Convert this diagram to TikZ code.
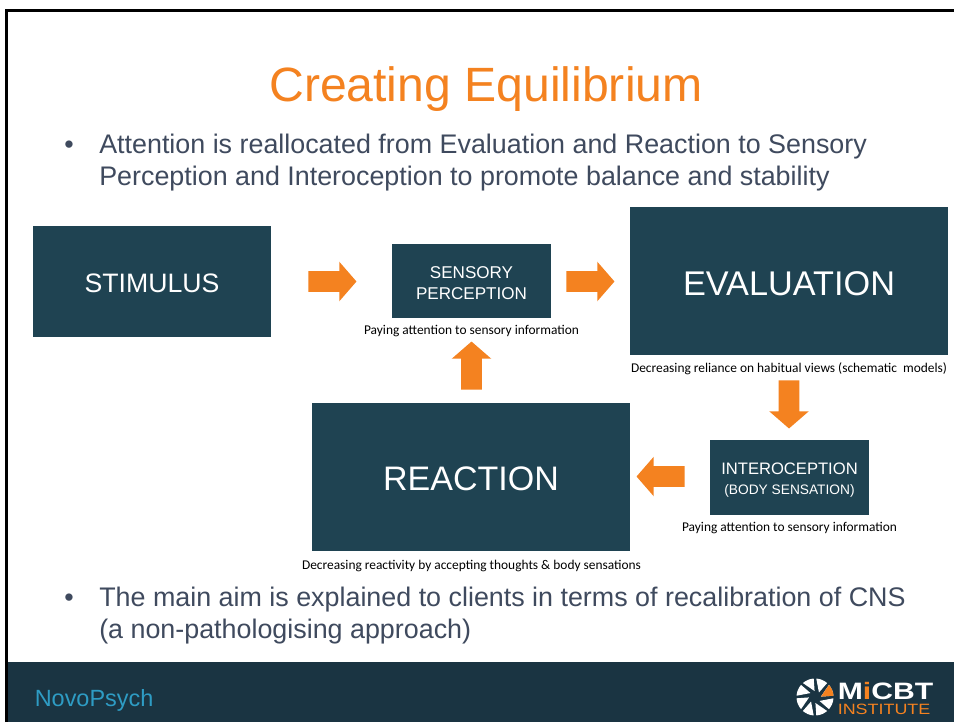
\documentclass[tikz,border=0pt]{standalone}
\usepackage{fontspec}
\setmainfont{Liberation Sans}
\newfontfamily\capfont{Carlito}
\usepackage{xcolor}
\usetikzlibrary{shapes.arrows}
\definecolor{panel}{HTML}{1F4352}
\definecolor{footer}{HTML}{1A3442}
\definecolor{accent}{HTML}{F48220}
\definecolor{slate}{HTML}{3F4A5E}
\definecolor{novo}{HTML}{2E9CC4}
\def\px{0.75pt}
\newcommand{\dropline}[1]{\rule{0pt}{\dimexpr0.72em+#1\relax}}
\tikzset{
  panelbox/.style={fill=panel, text=white, inner sep=0pt, align=center},
  lbl/.style={text=slate, font=\fontsize{20.15}{24}\selectfont, anchor=base west, inner sep=0pt},
  caption/.style={text=black, font=\capfont\fontsize{10.05}{12}\selectfont, inner sep=0pt},
  blockarrow/.style={single arrow, fill=accent, inner sep=10*\px, minimum height=48*\px,
    single arrow head extend=9.5*\px, single arrow tip angle=98}
}

\begin{document}
\begin{tikzpicture}[x=\px, y=-\px]
  \useasboundingbox (0,0) rectangle (954,722);
  \fill[white] (0,0) rectangle (954,722);
  \fill[footer] (6,662) rectangle (954,722);
  \draw[black, line width=1.9pt] (6.6,722) -- (6.6,10.3) -- (954,10.3);

  % title and bullets
  \node[text=accent, font=\fontsize{36.1}{44}\selectfont, inner sep=0pt] (title) at (486,89.5) {Creating Equilibrium};
  \node[lbl] (bulletA) at (64,153) {•};
  \node[lbl] (lineA) at (99,153) {Attention is reallocated from Evaluation and Reaction to Sensory};
  \node[lbl] (lineB) at (99,185) {Perception and Interoception to promote balance and stability};
  \node[lbl] (bulletB) at (64,606) {•};
  \node[lbl] (lineC) at (99,606) {The main aim is explained to clients in terms of recalibration of CNS};
  \node[lbl] (lineD) at (99,638) {(a non-pathologising approach)};

  % boxes
  \node[panelbox, minimum width=238*\px, minimum height=111*\px, font=\fontsize{20}{24}\selectfont] (stimulus) at (152,281.5) {\dropline{2.4pt}STIMULUS};
  \node[panelbox, minimum width=159*\px, minimum height=74*\px, font=\fontsize{12.8}{16}\selectfont] (sensory) at (471.5,281) {\dropline{3pt}SENSORY\\PERCEPTION};
  \node[panelbox, minimum width=318*\px, minimum height=148*\px, font=\fontsize{25.7}{30}\selectfont] (evaluation) at (789,281) {\dropline{3.2pt}EVALUATION};
  \node[panelbox, minimum width=318*\px, minimum height=148*\px, font=\fontsize{25.5}{30}\selectfont] (reaction) at (471,477) {\dropline{2.4pt}REACTION};
  \node[panelbox, minimum width=159*\px, minimum height=75*\px, font=\fontsize{12.45}{15.2}\selectfont] (interoception) at (789.5,477.5) {\dropline{3.6pt}INTEROCEPTION\\{\fontsize{10.3}{14}\selectfont (BODY SENSATION)}};

  % captions
  \node[caption] (capsensory) at (471.5,331) {Paying attention to sensory information};
  \node[caption] (capevaluation) at (789,369) {Decreasing reliance on habitual views (schematic\ \ models)};
  \node[caption] (capinteroception) at (789.5,528) {Paying attention to sensory information};
  \node[caption] (capreaction) at (471.5,566) {Decreasing reactivity by accepting thoughts \& body sensations};

  % arrows
  \node[blockarrow] (arrowA) at (328,281.5) {};
  \node[blockarrow] (arrowB) at (586,281.5) {};
  \node[blockarrow, shape border rotate=270] (arrowC) at (789,400) {};
  \node[blockarrow, shape border rotate=180] (arrowD) at (665,476.5) {};
  \node[blockarrow, shape border rotate=90] (arrowE) at (471.5,370) {};

  % footer
  \node[text=novo, font=\fontsize{17.6}{20}\selectfont, anchor=base west, inner sep=0pt] (novopsych) at (34.5,706) {NovoPsych};
  \begin{scope}[shift={(815,697)}, x=\px, y=\px]
    \foreach \a in {4,49,...,319} {
      \fill[white] (\a:6) -- (\a:18.5) arc[start angle=\a, end angle=\a+37, radius=18.5] -- cycle;
    }
    \fill[accent] (4:6) -- (4:18.5) arc[start angle=4, end angle=41, radius=18.5] -- cycle;
  \end{scope}
  \node[text=white, font=\bfseries\fontsize{17.8}{20}\selectfont, anchor=base west, inner sep=0pt] (micbt) at (837.5,699.5) {\scalebox{1.27}[1]{M\textcolor{accent}{i}CBT}};
  \node[text=accent, font=\fontsize{11.2}{14}\selectfont, anchor=base west, inner sep=0pt] (institute) at (837.5,714) {\scalebox{1.2}[1]{INSTITUTE}};
\end{tikzpicture}
\end{document}
